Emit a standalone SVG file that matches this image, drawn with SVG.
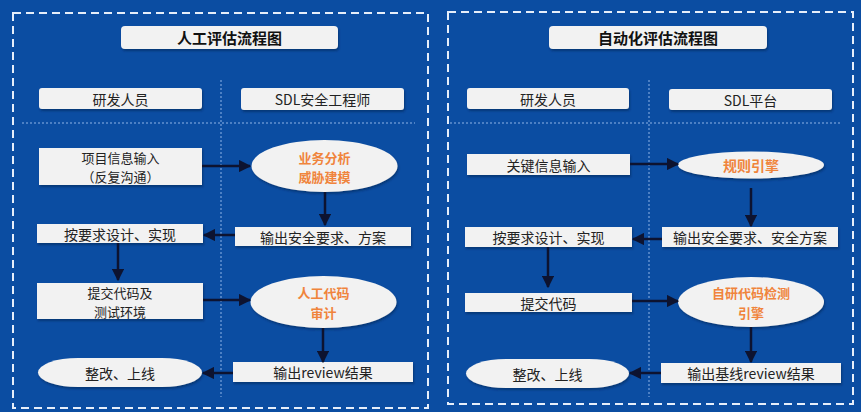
<svg xmlns="http://www.w3.org/2000/svg" width="861" height="412" viewBox="0 0 861 412">
<defs>
<marker id="ah" viewBox="0 0 10 10" refX="9" refY="5" markerWidth="5" markerHeight="5" orient="auto-start-reverse" markerUnits="strokeWidth">
<path d="M0,0 L10,5 L0,10 z" fill="#0d1330"/>
</marker>
<filter id="sh" x="-10%" y="-20%" width="120%" height="150%">
<feDropShadow dx="1" dy="2" stdDeviation="1.2" flood-color="#001a4a" flood-opacity="0.5"/>
</filter>
</defs>
<style>
.bg{fill:#0b4da2}
.panel{fill:none;stroke:#e6eefa;stroke-width:2;stroke-dasharray:8 5}
.div{stroke:#8fb4e6;stroke-width:1;stroke-dasharray:2 2;fill:none}
.box{fill:#f2f2f2;filter:url(#sh)}
.t{font-family:"Noto Sans CJK SC","Liberation Sans",sans-serif;font-size:14px;fill:#222;text-anchor:middle;dominant-baseline:central}
.m{font-size:13px}
.title{font-weight:bold;font-size:15px;fill:#111}
.o{fill:#f0843c;font-weight:bold}
.c{stroke:#0d1330;stroke-width:2.5;fill:none;marker-end:url(#ah)}
</style>
<rect class="bg" x="0" y="0" width="861" height="412"/>
<rect class="panel" x="13" y="13" width="415" height="395"/>
<rect class="panel" x="448" y="12" width="405" height="392"/>
<path class="div" d="M22,123 H415 M221,80 V397 M450,123 H842 M649,80 V397"/>

<g id="left-title"><rect class="box" x="121" y="26" width="217" height="23" rx="4"/><text class="t title" x="229.5" y="37.5">人工评估流程图</text></g>
<g id="left-h1"><rect class="box" x="39" y="88" width="163" height="21" rx="3"/><text class="t" x="120.5" y="98.5">研发人员</text></g>
<g id="left-h2"><rect class="box" x="241" y="88" width="163" height="22" rx="3"/><text class="t" x="322.5" y="99">SDL安全工程师</text></g>
<g id="l1"><rect class="box" x="39" y="148" width="163" height="37"/><text class="t m" x="120.5" y="157">项目信息输入<tspan x="120.5" dy="19">（反复沟通）</tspan></text></g>
<g id="l2"><ellipse class="box" cx="324.5" cy="166" rx="73" ry="26"/><text class="t m o" x="324.5" y="157">业务分析<tspan x="324.5" dy="19">威胁建模</tspan></text></g>
<g id="l3"><rect class="box" x="37" y="224" width="166" height="19"/><text class="t" x="120" y="233.5">按要求设计、实现</text></g>
<g id="l4"><rect class="box" x="235" y="227" width="176" height="19"/><text class="t" x="323" y="236.5">输出安全要求、方案</text></g>
<g id="l5"><rect class="box" x="37" y="283" width="166" height="36"/><text class="t m" x="120" y="292">提交代码及<tspan x="120" dy="19">测试环境</tspan></text></g>
<g id="l6"><ellipse class="box" cx="323.5" cy="302" rx="73" ry="26"/><text class="t m o" x="323.5" y="292.5">人工代码<tspan x="323.5" dy="19">审计</tspan></text></g>
<g id="l7"><rect class="box" x="38" y="358" width="164" height="29" rx="40" ry="14.5"/><text class="t" x="120" y="373">整改、上线</text></g>
<g id="l8"><rect class="box" x="233" y="362" width="180" height="20"/><text class="t" x="323" y="372">输出review结果</text></g>

<g id="right-title"><rect class="box" x="549" y="26" width="218" height="23" rx="4"/><text class="t title" x="658" y="37.5">自动化评估流程图</text></g>
<g id="right-h1"><rect class="box" x="467" y="88" width="162" height="21" rx="3"/><text class="t" x="548" y="98.5">研发人员</text></g>
<g id="right-h2"><rect class="box" x="669" y="89" width="163" height="21" rx="3"/><text class="t" x="750.5" y="99.5">SDL平台</text></g>
<g id="r1"><rect class="box" x="467" y="154" width="163" height="21"/><text class="t" x="548.5" y="164.5">关键信息输入</text></g>
<g id="r2"><ellipse class="box" cx="751" cy="165" rx="73" ry="13.5"/><text class="t o" x="751" y="165">规则引擎</text></g>
<g id="r3"><rect class="box" x="465" y="227" width="167" height="20"/><text class="t" x="548.5" y="237">按要求设计、实现</text></g>
<g id="r4"><rect class="box" x="662" y="227" width="176" height="20"/><text class="t" x="750" y="237">输出安全要求、安全方案</text></g>
<g id="r5"><rect class="box" x="465" y="293" width="167" height="19"/><text class="t" x="548.5" y="302.5">提交代码</text></g>
<g id="r6"><ellipse class="box" cx="751" cy="302" rx="73" ry="25"/><text class="t m o" x="751" y="292.5">自研代码检测<tspan x="751" dy="19">引擎</tspan></text></g>
<g id="r7"><rect class="box" x="466" y="359" width="163" height="29" rx="40" ry="14.5"/><text class="t" x="547.5" y="373.5">整改、上线</text></g>
<g id="r8"><rect class="box" x="661" y="363" width="180" height="20"/><text class="t" x="751" y="373">输出基线review结果</text></g>

<g id="connectors">
<path class="c" d="M202,166 H250"/>
<path class="c" d="M325,192 V225"/>
<path class="c" d="M235,235 H204"/>
<path class="c" d="M118,243 V280"/>
<path class="c" d="M203,300 H250"/>
<path class="c" d="M323,328 V362"/>
<path class="c" d="M233,373 H203"/>
<path class="c" d="M630,164 H678"/>
<path class="c" d="M751,188 V226"/>
<path class="c" d="M662,239 H633"/>
<path class="c" d="M548,247 V287"/>
<path class="c" d="M632,301 H678"/>
<path class="c" d="M751,327 V362"/>
<path class="c" d="M661,373 H630"/>
</g>
</svg>
